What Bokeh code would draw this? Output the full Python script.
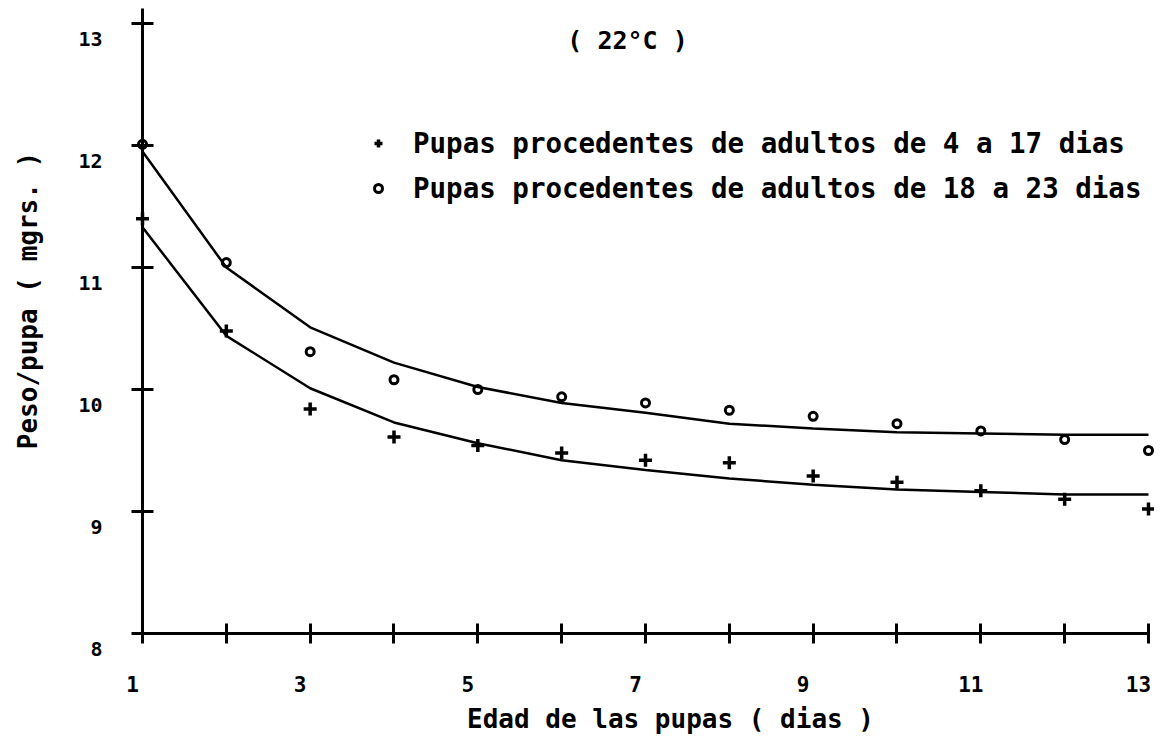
import math
from bokeh.plotting import figure
from bokeh.models import (LinearAxis, FixedTicker, CustomJSTickFormatter, Label,
                          Legend, LegendItem, Range1d)
from bokeh.embed import file_html
from bokeh.resources import INLINE

# ---------------- data ----------------
dias = [1, 2, 3, 4, 5, 6, 7, 8, 9, 10, 11, 12, 13]
peso_4_17 = [11.40, 10.48, 9.84, 9.61, 9.54, 9.48, 9.42, 9.40, 9.29, 9.24, 9.17, 9.10, 9.02]
peso_18_23 = [12.01, 11.04, 10.31, 10.08, 10.00, 9.94, 9.89, 9.83, 9.78, 9.72, 9.66, 9.59, 9.50]
ajuste_4_17 = [11.33, 10.44, 10.01, 9.73, 9.56, 9.42, 9.34, 9.27, 9.22, 9.18, 9.16, 9.14, 9.14]
ajuste_18_23 = [11.95, 11.00, 10.51, 10.22, 10.02, 9.89, 9.81, 9.72, 9.68, 9.65, 9.64, 9.63, 9.63]

x_ticks = [1, 2, 3, 4, 5, 6, 7, 8, 9, 10, 11, 12, 13]
x_label_values = [1, 3, 5, 7, 9, 11, 13]
x_tick_labels = ["1", "3", "5", "7", "9", "11", "13"]
y_ticks = [8, 9, 10, 11, 12, 13]
y_tick_labels = ["8", "9", "10", "11", "12", "13"]

titulo = "( 22°C )"
x_titulo = "Edad de las pupas ( dias )"
y_titulo = "Peso/pupa ( mgrs. )"
leyenda_1 = "Pupas procedentes de adultos de 4 a 17 dias"
leyenda_2 = "Pupas procedentes de adultos de 18 a 23 dias"

# ---------------- layout constants ----------------
W, H = 1154, 738
X1_PX, X_PX_PER = 142.0, 83.833   # canvas px of x=1, px per day
Y8_PX, Y_PX_PER = 633.0, 122.0    # canvas px of y=8, px per mg

FONT = "DejaVu Sans Mono"


def xd(px):
    return 1 + (px - X1_PX) / X_PX_PER


def yd(py):
    return 8 + (Y8_PX - py) / Y_PX_PER


p = figure(width=W, height=H,
           x_range=Range1d(xd(0), xd(W)), y_range=Range1d(yd(H), yd(0)),
           min_border=0, toolbar_location=None, output_backend="svg",
           x_axis_location=None, y_axis_location=None, title=None)
p.outline_line_color = None
p.background_fill_color = "white"
p.border_fill_color = "white"
p.xgrid.visible = False
p.ygrid.visible = False

# ---------------- curves and points ----------------
p.line(dias, ajuste_18_23, line_color="black", line_width=2.5)
p.line(dias, ajuste_4_17, line_color="black", line_width=2.5)
r_plus = p.scatter(dias, peso_4_17, marker="cross", size=13, line_width=3.5,
                   line_color="black")
r_circ = p.scatter(dias, peso_18_23, marker="circle", size=8, line_width=3,
                   line_color="black", fill_color=None)

# ---------------- axes (drawn through x=1 and y=8) ----------------
blank = CustomJSTickFormatter(code="return '';")

xa = LinearAxis(fixed_location=8, ticker=FixedTicker(ticks=x_ticks), bounds=(1, 13),
                major_tick_in=10, major_tick_out=10, axis_line_width=3,
                major_tick_line_width=3, minor_tick_line_color=None, formatter=blank)
p.add_layout(xa, "below")

ya = LinearAxis(fixed_location=1, ticker=FixedTicker(ticks=y_ticks), bounds=(8, yd(8)),
                major_tick_in=11, major_tick_out=11, axis_line_width=3,
                major_tick_line_width=3, minor_tick_line_color=None, formatter=blank)
p.add_layout(ya, "left")

# tick-label axes (labels sit a little left of / below their ticks, as in the original)
x_shift = 10 / X_PX_PER
x_lab_ticks = [v - x_shift for v in x_label_values]
xl = LinearAxis(fixed_location=8, ticker=FixedTicker(ticks=x_lab_ticks),
                formatter=CustomJSTickFormatter(
                    args=dict(vals=x_lab_ticks, labels=x_tick_labels),
                    code="const i = vals.findIndex((v) => Math.abs(v - tick) < 1e-6);"
                         "return i >= 0 ? labels[i] : '';"),
                axis_line_color=None, major_tick_line_color=None, minor_tick_line_color=None,
                major_tick_in=0, major_tick_out=0, major_label_standoff=42,
                major_label_text_font=FONT, major_label_text_font_size="21px",
                major_label_text_font_style="bold", major_label_text_color="black")
p.add_layout(xl, "below")

y_shift = 15 / Y_PX_PER
y_lab_ticks = [v - y_shift for v in y_ticks]
yl = LinearAxis(fixed_location=1, ticker=FixedTicker(ticks=y_lab_ticks),
                formatter=CustomJSTickFormatter(
                    args=dict(vals=y_lab_ticks, labels=y_tick_labels),
                    code="const i = vals.findIndex((v) => Math.abs(v - tick) < 1e-6);"
                         "return i >= 0 ? labels[i] : '';"),
                axis_line_color=None, major_tick_line_color=None, minor_tick_line_color=None,
                major_tick_in=0, major_tick_out=0, major_label_standoff=40,
                major_label_text_font=FONT, major_label_text_font_size="20px",
                major_label_text_font_style="bold", major_label_text_color="black")
p.add_layout(yl, "left")

# ---------------- texts ----------------
p.add_layout(Label(x=xd(627), y=yd(40), text=titulo, text_font=FONT,
                   text_font_size="25px", text_font_style="bold",
                   text_align="center", text_baseline="middle", text_color="black"))
p.add_layout(Label(x=xd(670), y=yd(718), text=x_titulo, text_font=FONT,
                   text_font_size="26px", text_font_style="bold",
                   text_align="center", text_baseline="middle", text_color="black"))
p.add_layout(Label(x=xd(27), y=yd(300), text=y_titulo, text_font=FONT, angle=math.pi / 2,
                   text_font_size="26px", text_font_style="bold",
                   text_align="center", text_baseline="middle", text_color="black"))

# ---------------- legend ----------------
legend = Legend(items=[LegendItem(label=leyenda_1, renderers=[r_plus]),
                       LegendItem(label=leyenda_2, renderers=[r_circ])],
                location=(368, 533), orientation="vertical", padding=0, margin=0,
                spacing=11, glyph_width=20, glyph_height=34, label_height=34,
                label_standoff=25, border_line_color=None, background_fill_alpha=0,
                label_text_font=FONT, label_text_font_size="27.5px",
                label_text_font_style="bold", label_text_color="black")
p.add_layout(legend, "center")

open("out.html", "w").write(file_html(p, INLINE))
